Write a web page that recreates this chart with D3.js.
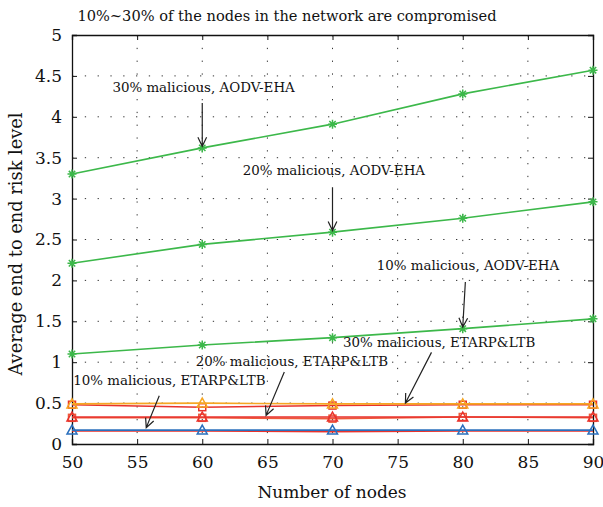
<!DOCTYPE html>
<html>
<head>
<meta charset="utf-8">
<script src="https://cdn.jsdelivr.net/npm/d3@7"></script>
<style>
body { margin: 0; background: #fff; }
</style>
</head>
<body>
<svg id="chart" width="603" height="507"></svg>
<script>
"use strict";
// chart data
var nodes = [50, 60, 70, 80, 90];
var xTicks = [50, 55, 60, 65, 70, 75, 80, 85, 90];
var yTicks = [0, 0.5, 1, 1.5, 2, 2.5, 3, 3.5, 4, 4.5, 5];

var aodv30 = [3.30, 3.62, 3.91, 4.28, 4.57];
var aodv20 = [2.21, 2.44, 2.59, 2.76, 2.96];
var aodv10 = [1.10, 1.21, 1.30, 1.41, 1.53];
var etarp30 = [0.49, 0.50, 0.49, 0.49, 0.49];
var etarp30b = [0.48, 0.45, 0.47, 0.48, 0.48];
var etarp20 = [0.33, 0.33, 0.33, 0.33, 0.33];
var etarp20b = [0.32, 0.32, 0.31, 0.33, 0.32];
var etarp10 = [0.17, 0.17, 0.17, 0.17, 0.17];
var etarp10b = [0.16, 0.16, 0.15, 0.16, 0.16];

var annoText = ["30% malicious, AODV-EHA", "20% malicious, AODV-EHA", "10% malicious, AODV-EHA",
	"30% malicious, ETARP&LTB", "20% malicious, ETARP&LTB", "10% malicious, ETARP&LTB"];
// text anchor point, arrow start, arrow end (data units)
var annoAt = [[53.1, 4.30], [63.1, 3.29], [73.4, 2.13], [70.8, 1.19], [59.5, 0.95], [50.1, 0.72]];
var arrowFrom = [[60, 4.17], [70, 3.14], [80.2, 1.98], [77.6, 1.12], [66.3, 0.88], [56.7, 0.59]];
var arrowTo = [[60, 3.64], [70, 2.61], [80, 1.43], [75.6, 0.50], [64.9, 0.35], [55.7, 0.20]];

//only serif face that resolves here
var serif = "'DejaVu Serif'";
var svg = d3.select('#chart');
var pLeft = 72, pRight = 593, pTop = 35, pBottom = 444;

var x = d3.scaleLinear().domain([50, 90]).range([pLeft, pRight]);
var y = d3.scaleLinear().domain([0, 5]).range([pBottom, pTop]);

//dotted grid
svg.append('g').selectAll('line').data(xTicks.slice(1, -1)).enter().append('line')
	.attr('x1', function(d){return x(d);}).attr('x2', function(d){return x(d);})
	.attr('y1', pTop).attr('y2', pBottom)
	.style('stroke', '#333').style('stroke-width', 1).style('stroke-dasharray', '1.3,11.5');
svg.append('g').selectAll('line').data(yTicks.slice(1, -1)).enter().append('line')
	.attr('x1', pLeft).attr('x2', pRight)
	.attr('y1', function(d){return y(d);}).attr('y2', function(d){return y(d);})
	.style('stroke', '#333').style('stroke-width', 1).style('stroke-dasharray', '1.3,11.5');

//axes, matlab style ticks inside on all four sides
var fmt = function(d){return d3.format('')(d);};
svg.append('g').attr('transform', 'translate(0,' + pBottom + ')')
	.call(d3.axisBottom(x).tickValues(xTicks).tickSize(-5).tickPadding(12).tickFormat(fmt));
svg.append('g').attr('transform', 'translate(0,' + pTop + ')')
	.call(d3.axisTop(x).tickValues(xTicks).tickSize(-5).tickFormat(''));
svg.append('g').attr('transform', 'translate(' + pLeft + ',0)')
	.call(d3.axisLeft(y).tickValues(yTicks).tickSize(-5).tickPadding(10).tickFormat(fmt));
svg.append('g').attr('transform', 'translate(' + pRight + ',0)')
	.call(d3.axisRight(y).tickValues(yTicks).tickSize(-5).tickFormat(''));
svg.selectAll('g').attr('font-family', serif);
svg.selectAll('.domain').style('stroke', '#111').style('stroke-width', 1.3);
svg.selectAll('.tick line').style('stroke', '#111');
svg.selectAll('.tick text').attr('font-size', 17).attr('fill', '#111');

var line = d3.line()
	.x(function(d, i){return x(nodes[i]);})
	.y(function(d){return y(d);});

var series = [
	{vals: etarp10b, color: '#e8322c', marker: 'none'},
	{vals: etarp10, color: '#2a6fbd', marker: 'tri'},
	{vals: etarp20b, color: '#ee5a3a', marker: 'square'},
	{vals: etarp20, color: '#e8322c', marker: 'tri'},
	{vals: etarp30b, color: '#e8322c', marker: 'square'},
	{vals: etarp30, color: '#f6a623', marker: 'tri'},
	{vals: aodv10, color: '#3cb84a', marker: 'star'},
	{vals: aodv20, color: '#3cb84a', marker: 'star'},
	{vals: aodv30, color: '#3cb84a', marker: 'star'}
];

series.forEach(function(s){
	var g = svg.append('g');
	g.append('path').datum(s.vals)
		.attr('d', line)
		.style('fill', 'none').style('stroke', s.color).style('stroke-width', 1.6);
	var pts = g.selectAll('g.pt').data(s.vals).enter().append('g')
		.attr('transform', function(d, i){return 'translate(' + x(nodes[i]) + ',' + y(d) + ')';});
	if(s.marker == 'tri'){
		pts.append('path').attr('d', 'M0,-5L5,4L-5,4Z')
			.style('fill', 'none').style('stroke', s.color).style('stroke-width', 1.5);
	} else if(s.marker == 'square'){
		pts.append('rect').attr('x', -3.5).attr('y', -3.5).attr('width', 7).attr('height', 7)
			.style('fill', 'none').style('stroke', s.color).style('stroke-width', 1.5);
	} else if(s.marker == 'star'){
		pts.append('path').attr('d', 'M-4.5,0H4.5M0,-4.5V4.5M-3.2,-3.2L3.2,3.2M-3.2,3.2L3.2,-3.2')
			.style('stroke', s.color).style('stroke-width', 1.5);
	}
});

//annotations with arrows
var annos = svg.append('g');
annoText.forEach(function(t, i){
	annos.append('text')
		.attr('x', x(annoAt[i][0])).attr('y', y(annoAt[i][1]))
		.attr('font-family', serif)
		.attr('font-size', 13.4)
		.attr('fill', '#111')
		.text(t);
	var x1 = x(arrowFrom[i][0]), y1 = y(arrowFrom[i][1]);
	var x2 = x(arrowTo[i][0]), y2 = y(arrowTo[i][1]);
	var ang = Math.atan2(y2 - y1, x2 - x1);
	var head = 10, spread = 0.45;
	var p = 'M' + x1 + ',' + y1 + 'L' + x2 + ',' + y2 +
		'M' + (x2 - head * Math.cos(ang - spread)) + ',' + (y2 - head * Math.sin(ang - spread)) +
		'L' + x2 + ',' + y2 +
		'L' + (x2 - head * Math.cos(ang + spread)) + ',' + (y2 - head * Math.sin(ang + spread));
	annos.append('path').attr('d', p)
		.style('fill', 'none').style('stroke', '#222').style('stroke-width', 1.2);
});

//titles
svg.append('text').attr('x', 287).attr('y', 21)
	.attr('text-anchor', 'middle').attr('font-family', serif).attr('font-size', 14.6).attr('fill', '#111')
	.text('10%~30% of the nodes in the network are compromised');
svg.append('text').attr('x', 332).attr('y', 498)
	.attr('text-anchor', 'middle').attr('font-family', serif).attr('font-size', 17).attr('fill', '#111')
	.text('Number of nodes');
svg.append('text').attr('transform', 'translate(22,244) rotate(-90)')
	.attr('text-anchor', 'middle').attr('font-family', serif).attr('font-size', 17.8).attr('fill', '#111')
	.text('Average end to end risk level');
</script>
</body>
</html>
